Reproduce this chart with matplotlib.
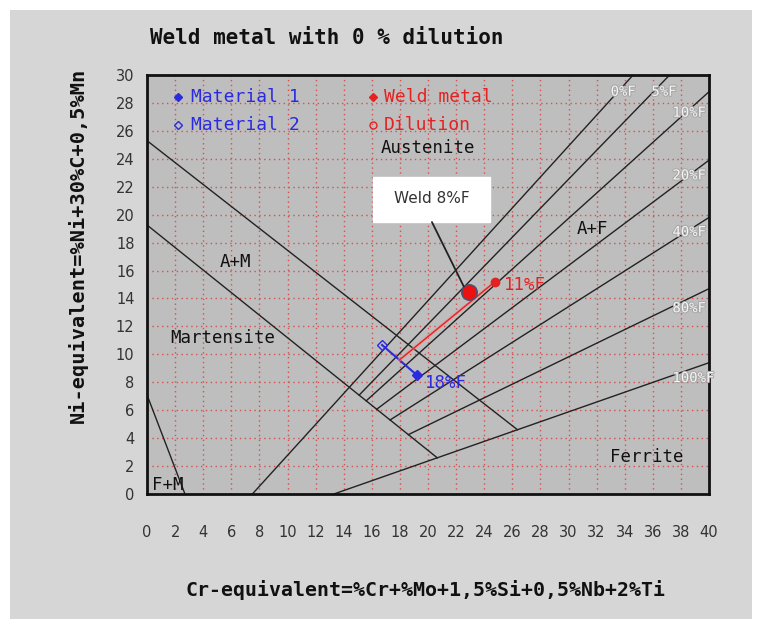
import matplotlib
matplotlib.use('Agg')
import matplotlib.pyplot as plt
from matplotlib.patches import Rectangle
import matplotlib.patheffects as pe

# ---------------- data ----------------
x_ticks = list(range(0, 41, 2))
y_ticks = list(range(0, 31, 2))

# phase boundary lines (Cr-eq, Ni-eq)
martensite_x = [0.0, 26.37]
martensite_y = [25.3, 4.6]
am_x = [0.0, 20.66]
am_y = [19.26, 2.59]
fm_x = [0.0, 2.7]
fm_y = [7.1, 0.0]

# iso-ferrite lines
ferrite_labels = ['0%F', '5%F', '10%F', '20%F', '40%F', '80%F', '100%F']
ferrite_start_x = [7.5, 15.1, 15.6, 16.35, 17.3, 18.6, 13.3]
ferrite_start_y = [0.0, 7.08, 6.67, 6.07, 5.30, 4.25, 0.0]
ferrite_end_x = [34.6, 37.2, 40.0, 40.0, 40.0, 40.0, 40.0]
ferrite_end_y = [30.0, 30.0, 28.8, 23.9, 19.8, 14.7, 9.4]
ferrite_label_x = [33.0, 35.9, 37.4, 37.4, 37.4, 37.4, 37.4]
ferrite_label_y = [28.8, 28.8, 27.3, 22.8, 18.75, 13.3, 8.3]

# materials
material_names = ['Material 1', 'Material 2']
material_cr = [19.2, 16.73]
material_ni = [8.52, 10.67]
material_ferrite_label = '18%F'

# mix of base materials and weld metal
mix_cr = 17.97
mix_ni = 9.6
weld_cr = 24.77
weld_ni = 15.2
weld_ferrite_label = '11%F'

# resulting weld (0 % dilution)
result_cr = 22.9
result_ni = 14.45
result_label = 'Weld 8%F'

# region labels
region_names = ['Austenite', 'A+F', 'A+M', 'Martensite', 'Ferrite', 'F+M']
region_x = [16.6, 30.6, 5.2, 1.64, 32.95, 0.36]
region_y = [24.8, 19.0, 16.6, 11.2, 2.65, 0.65]

# ---------------- figure ----------------
W, H = 766, 627
fig = plt.figure(figsize=(W / 100, H / 100), dpi=100, facecolor='white')
fig.patches.append(Rectangle((10 / W, 8 / H), 742 / W, 609 / H, transform=fig.transFigure,
                             facecolor='#d6d6d6', edgecolor='none', zorder=-10))

ax = fig.add_axes([147 / W, (H - 494) / H, 562 / W, 419 / H])
ax.set_facecolor('#bebebe')
ax.set_xlim(0, 40)
ax.set_ylim(0, 30)
ax.set_xticks(x_ticks)
ax.set_yticks(y_ticks)
ax.grid(True, color='#d65050', linestyle=(0, (1, 2.5)), linewidth=1.0)
ax.set_axisbelow(True)
ax.tick_params(length=0, labelsize=10.5, labelcolor='#333333', pad=22)
ax.tick_params(axis='y', pad=9)
for s in ax.spines.values():
    s.set_linewidth(2)
    s.set_color('#111111')

mono = 'DejaVu Sans Mono'
lc = '#222222'

# boundary lines
ax.plot(martensite_x, martensite_y, color=lc, lw=1.0)
ax.plot(am_x, am_y, color=lc, lw=1.0)
ax.plot(fm_x, fm_y, color=lc, lw=1.0)
for i in range(len(ferrite_labels)):
    ax.plot([ferrite_start_x[i], ferrite_end_x[i]], [ferrite_start_y[i], ferrite_end_y[i]],
            color=lc, lw=1.0)
    ax.text(ferrite_label_x[i], ferrite_label_y[i], ferrite_labels[i], family=mono,
            fontsize=10, color='#f4f4f4', ha='left', va='center',
            path_effects=[pe.withStroke(linewidth=1.5, foreground='#a8a8a8')])

for name, x, y in zip(region_names, region_x, region_y):
    ax.text(x, y, name, family=mono, fontsize=12.5, color='#111111', ha='left', va='center')

blue = '#2a2ae0'
red = '#e52222'

# materials line
ax.plot(material_cr, material_ni, color=blue, lw=1.5)
ax.plot(material_cr[0], material_ni[0], marker='D', ms=5, color=blue)
ax.plot(material_cr[1], material_ni[1], marker='D', ms=5, mfc='none', mec=blue, mew=1)
ax.text(material_cr[0] + 0.6, material_ni[0] - 0.6, material_ferrite_label, family=mono,
        fontsize=12.5, color=blue, ha='left', va='center')

# dilution line
ax.plot([mix_cr, weld_cr], [mix_ni, weld_ni], color='#f09090', lw=2.4, alpha=0.6)
ax.plot([mix_cr, weld_cr], [mix_ni, weld_ni], color=red, lw=1.0)
ax.plot(weld_cr, weld_ni, marker='o', ms=6, color=red)
ax.text(weld_cr + 0.6, weld_ni - 0.2, weld_ferrite_label, family=mono,
        fontsize=12.5, color=red, ha='left', va='center')

# resulting weld
ax.plot(result_cr, result_ni, marker='o', ms=11, mfc='#ee1010', mec='#505070', mew=1.2, zorder=5)
ax.add_patch(Rectangle((16.08, 19.47), 8.33, 3.22, facecolor='white', edgecolor='white', zorder=6))
ax.text(20.25, 21.15, result_label, fontsize=11, color='#333333', ha='center', va='center', zorder=7)
ax.annotate('', xy=(22.55, 14.85), xytext=(20.28, 19.47),
            arrowprops=dict(arrowstyle='-', color='#222222', lw=1.3, shrinkA=0, shrinkB=0), zorder=7)

# legend (manual, two columns)
ax.plot(2.2, 28.4, marker='D', ms=4, color=blue)
ax.text(3.13, 28.4, material_names[0], family=mono, fontsize=13, color=blue, va='center')
ax.plot(2.2, 26.4, marker='D', ms=4, mfc='none', mec=blue, mew=1)
ax.text(3.13, 26.4, material_names[1], family=mono, fontsize=13, color=blue, va='center')
ax.plot(16.1, 28.4, marker='D', ms=4, color=red)
ax.text(16.87, 28.4, 'Weld metal', family=mono, fontsize=13, color=red, va='center')
ax.plot(16.1, 26.4, marker='o', ms=5, mfc='none', mec=red, mew=1)
ax.text(16.87, 26.4, 'Dilution', family=mono, fontsize=13, color=red, va='center')

# titles
fig.text(150 / W, 1 - 38 / H, 'Weld metal with 0 % dilution', family=mono, fontweight='bold',
         fontsize=15, color='#111111', ha='left', va='center')
fig.text(78 / W, 1 - 245 / H, 'Ni-equivalent=%Ni+30%C+0,5%Mn', family=mono, fontweight='bold',
         fontsize=14.6, color='#111111', ha='center', va='center', rotation=90)
fig.text(425 / W, 1 - 590 / H, 'Cr-equivalent=%Cr+%Mo+1,5%Si+0,5%Nb+2%Ti', family=mono,
         fontweight='bold', fontsize=14.3, color='#111111', ha='center', va='center')

fig.savefig('out.png', dpi=100, facecolor=fig.get_facecolor())
